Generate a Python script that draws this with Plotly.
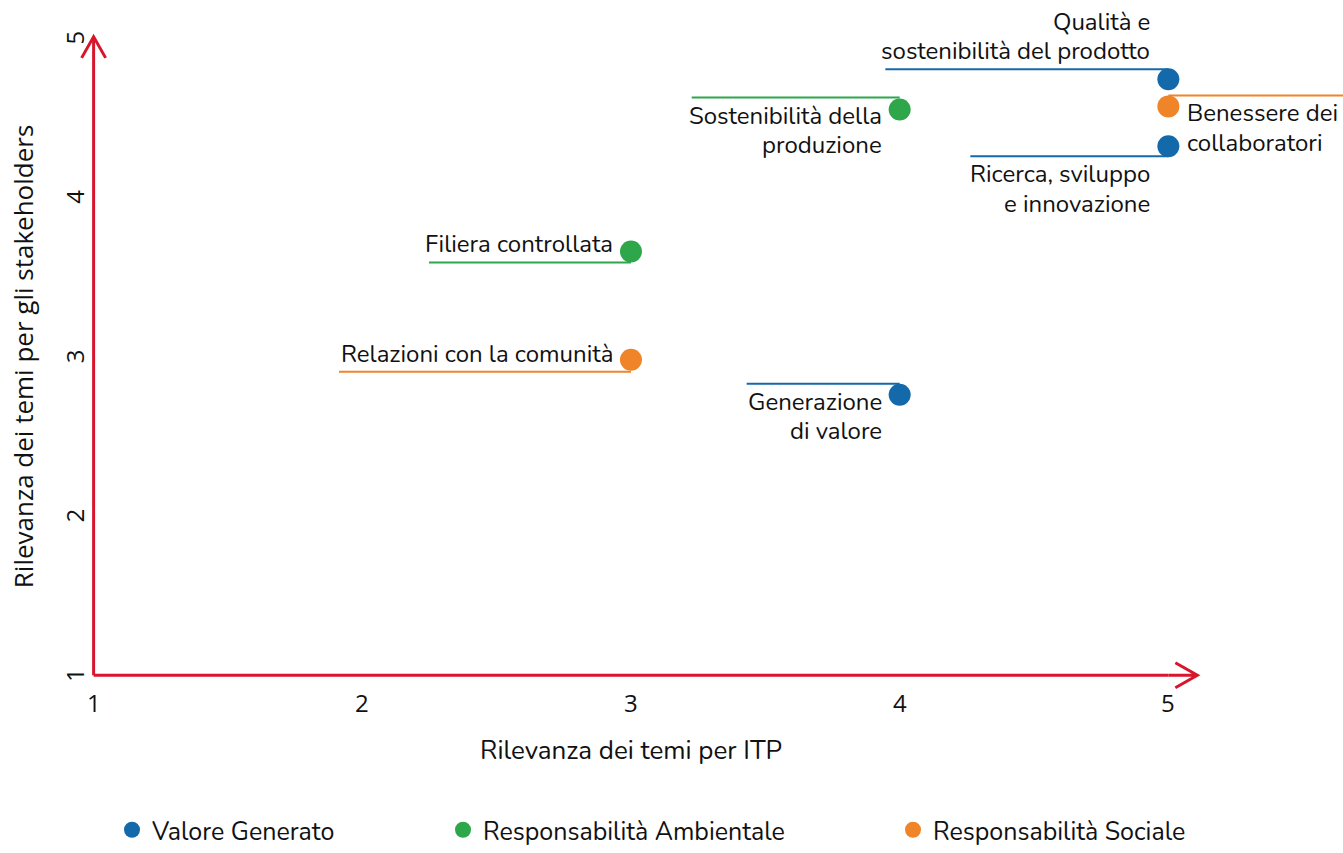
import plotly.graph_objects as go

# ---- data ----
topics = [
    "Qualità e<br>sostenibilità del prodotto",
    "Benessere dei<br>collaboratori",
    "Ricerca, sviluppo<br>e innovazione",
    "Sostenibilità della<br>produzione",
    "Filiera controllata",
    "Relazioni con la comunità",
    "Generazione<br>di valore",
]
category = [
    "Valore Generato",
    "Responsabilità Sociale",
    "Valore Generato",
    "Responsabilità Ambientale",
    "Responsabilità Ambientale",
    "Responsabilità Sociale",
    "Valore Generato",
]
itp_relevance = [5, 5, 5, 4, 3, 3, 4]
stakeholder_relevance = [4.74, 4.57, 4.32, 4.55, 3.66, 2.98, 2.76]

categories = ["Valore Generato", "Responsabilità Ambientale", "Responsabilità Sociale"]
tick_values = [1, 2, 3, 4, 5]
tick_labels = ["1", "2", "3", "4", "5"]
x_title = "Rilevanza dei temi per ITP"
y_title = "Rilevanza dei temi per gli stakeholders"

# ---- styles ----
colors = {
    "Valore Generato": "#1469aa",
    "Responsabilità Ambientale": "#2da74a",
    "Responsabilità Sociale": "#ef8528",
}
axis_color = "#d7152c"
TEXT = "#111111"
FONT = "Nunito, 'Open Sans', sans-serif"
LABEL_FS = 24
LINE_GAP = 29.5
# per label: (line start px, line end px, line vertical offset px (+ = up), text side, text above?)
label_style = [
    (-283, 0, 10, "left", True),
    (0, 190, 11, "right", False),
    (-198, 0, -10, "left", False),
    (-208, 0, 12, "left", False),
    (-202, 0, -11, "left", True),
    (-292, 0, -12, "left", True),
    (-153, 0, 11, "left", False),
]
legend_x = [112, 443, 893]

fig = go.Figure()

shapes = []
annotations = []
for t, c, x, y, st in zip(topics, category, itp_relevance, stakeholder_relevance, label_style):
    x0, x1, off, side, above = st
    shapes.append(dict(
        type="line", xref="x", yref="y", xsizemode="pixel", ysizemode="pixel",
        xanchor=x, yanchor=y, x0=x0, x1=x1, y0=off, y1=off,
        line=dict(color=colors[c], width=2), layer="below",
    ))
    lines = t.split("<br>")
    n = len(lines)
    for k, ln in enumerate(lines):
        if above:
            dy = off + 18 + (n - 1 - k) * LINE_GAP
        else:
            dy = off - 18 - k * LINE_GAP
        annotations.append(dict(
            x=x, y=y, xref="x", yref="y", text=ln, showarrow=False,
            xanchor="right" if side == "left" else "left",
            xshift=-16 if side == "left" else 17,
            yanchor="middle", yshift=dy,
            font=dict(family=FONT, size=LABEL_FS, color=TEXT),
        ))

for i, cat in enumerate(categories):
    xs = [x for x, c in zip(itp_relevance, category) if c == cat]
    ys = [y for y, c in zip(stakeholder_relevance, category) if c == cat]
    fig.add_trace(go.Scatter(
        x=xs, y=ys, mode="markers", name=cat,
        marker=dict(size=22, color=colors[cat], line=dict(width=0)),
        legend="legend" if i == 0 else f"legend{i+1}",
        cliponaxis=False, hoverinfo="skip",
    ))

# axes with open arrowheads
x_lo, x_hi = tick_values[0], tick_values[-1]
shapes += [
    dict(type="line", xref="x", yref="y", x0=x_lo, x1=x_hi, y0=x_lo, y1=x_lo,
         line=dict(color=axis_color, width=3)),
    dict(type="path", xref="x", yref="y", xsizemode="pixel", ysizemode="pixel",
         xanchor=x_hi, yanchor=x_lo,
         path="M 0,0 L 29,0 M 7,12.5 L 29,0 L 7,-12.5", line=dict(color=axis_color, width=3)),
    dict(type="line", xref="x", yref="y", x0=x_lo, x1=x_lo, y0=x_lo, y1=x_hi,
         line=dict(color=axis_color, width=3)),
    dict(type="path", xref="x", yref="y", xsizemode="pixel", ysizemode="pixel",
         xanchor=x_lo, yanchor=x_hi,
         path="M -12,-20 L 0,1 L 12,-20", line=dict(color=axis_color, width=3)),
]

# tick labels
for v, lab in zip(tick_values, tick_labels):
    annotations.append(dict(x=v, y=tick_values[0], xref="x", yref="y", text=lab,
                            showarrow=False, yanchor="middle", yshift=-27,
                            font=dict(family="'Open Sans', sans-serif", size=24, color=TEXT)))
    annotations.append(dict(x=tick_values[0], y=v, xref="x", yref="y", text=lab,
                            showarrow=False, xanchor="center", xshift=-19, textangle=-90,
                            font=dict(family="'Open Sans', sans-serif", size=24, color=TEXT)))

annotations += [
    dict(x=(x_lo + x_hi) / 2, y=x_lo, xref="x", yref="y",
         text=x_title, showarrow=False, yanchor="middle", yshift=-75,
         font=dict(family=FONT, size=26, color=TEXT)),
    dict(x=x_lo, y=(x_lo + x_hi) / 2, xref="x", yref="y",
         text=y_title, showarrow=False, xanchor="center", xshift=-71, textangle=-90,
         font=dict(family="'Open Sans', sans-serif", size=26, color=TEXT)),
]

legend_common = dict(orientation="h", xref="container", yref="container",
                     yanchor="bottom", y=-0.007, xanchor="left",
                     font=dict(family=FONT, size=25, color=TEXT),
                     bgcolor="rgba(0,0,0,0)", borderwidth=0)
fig.update_layout(
    width=1343, height=853,
    margin=dict(l=13, r=0, t=6, b=98),
    paper_bgcolor="white", plot_bgcolor="white",
    showlegend=True,
    legend=dict(legend_common, x=legend_x[0] / 1343),
    legend2=dict(legend_common, x=legend_x[1] / 1343),
    legend3=dict(legend_common, x=legend_x[2] / 1343),
    shapes=shapes, annotations=annotations,
    xaxis=dict(range=[0.7, 5.65], visible=False, fixedrange=True),
    yaxis=dict(range=[0.5, 5.2], visible=False, fixedrange=True),
)

fig.write_html("out.html", config={"displayModeBar": False},
               post_script="document.body.style.margin='0px';")
